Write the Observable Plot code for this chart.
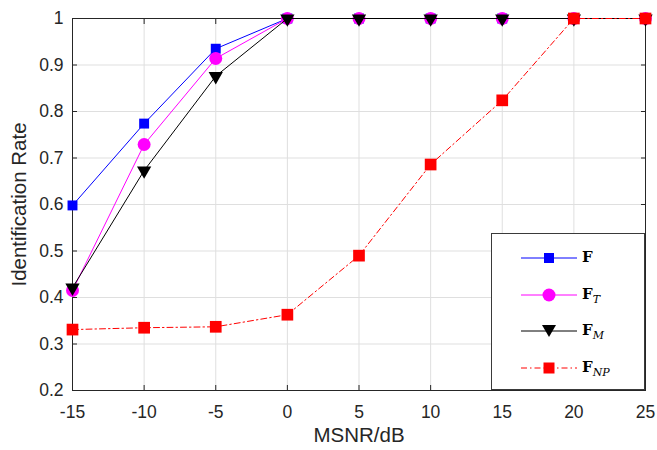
<!DOCTYPE html>
<html><head><meta charset="utf-8">
<script src="https://cdn.jsdelivr.net/npm/d3@7"></script>
<script src="https://cdn.jsdelivr.net/npm/@observablehq/plot@0.6"></script>
<style>
body{margin:0;background:#fff;}
#wrap{position:relative;width:657px;height:450px;font-family:"Liberation Sans",Arial,sans-serif;}
#legend{position:absolute;left:491px;top:233px;width:154px;height:157px;background:#fff;border:1px solid #3a3a3a;box-sizing:border-box;}
.row{position:absolute;left:0;height:24px;}
.row svg{position:absolute;left:29px;top:0;}
.lab{position:absolute;left:90px;top:2px;font-family:"DejaVu Serif","Liberation Serif",serif;font-size:15px;font-weight:bold;white-space:nowrap;color:#000;}
.lab sub{font-weight:normal;font-style:italic;font-size:11px;}
</style></head>
<body><div id="wrap"></div>
<script>
const snr = [-15, -10, -5, 0, 5, 10, 15, 20, 25];
const F   = [0.598, 0.774, 0.935, 1, 1, 1, 1, 1, 1];
const FT  = [0.415, 0.729, 0.914, 1, 1, 1, 1, 1, 1];
const FM  = [0.421, 0.673, 0.876, 1, 1, 1, 1, 1, 1];
const FNP = [0.331, 0.335, 0.337, 0.363, 0.490, 0.686, 0.824, 1, 1];
const xTicks = [-15, -10, -5, 0, 5, 10, 15, 20, 25];
const yTicks = [0.2, 0.3, 0.4, 0.5, 0.6, 0.7, 0.8, 0.9, 1];
const xLabel = "MSNR/dB";
const yLabel = "Identification Rate";

const rows = (vals) => snr.map((x, i) => ({x, y: vals[i]}));
const dF = rows(F), dT = rows(FT), dM = rows(FM), dN = rows(FNP);
const ax = "#262626";

const chart = Plot.plot({
  width: 657, height: 450,
  marginLeft: 72, marginRight: 12, marginTop: 18, marginBottom: 60,
  style: {fontFamily: "Liberation Sans, Arial, sans-serif", fontSize: "17.5px", color: ax, background: "#fff"},
  x: {domain: [-15, 25]},
  y: {domain: [0.2, 1]},
  marks: [
    Plot.gridX(xTicks, {stroke: "#dfdfdf", strokeOpacity: 1}),
    Plot.gridY(yTicks, {stroke: "#dfdfdf", strokeOpacity: 1}),
    Plot.axisX(xTicks, {anchor: "bottom", tickSize: 0, tickPadding: 15, fontSize: 17.5, fill: ax, tickFormat: d => String(d), label: null}),
    Plot.axisX(xTicks, {anchor: "bottom", tickSize: -5, text: null, stroke: ax, label: null}),
    Plot.axisX(xTicks, {anchor: "top", tickSize: -5, text: null, stroke: ax, label: null}),
    Plot.axisY(yTicks, {anchor: "left", tickSize: 0, tickPadding: 9, fontSize: 17.5, fill: ax, tickFormat: d => d === 1 ? "1" : d.toFixed(1), label: null}),
    Plot.axisY(yTicks, {anchor: "left", tickSize: -5, text: null, stroke: ax, label: null}),
    Plot.axisY(yTicks, {anchor: "right", tickSize: -5, text: null, stroke: ax, label: null}),
    Plot.text([xLabel], {frameAnchor: "bottom", dy: 45, lineAnchor: "middle", textAnchor: "middle", fontSize: 20.5, fill: ax}),
    Plot.text([yLabel], {frameAnchor: "left", rotate: -90, dx: -53, lineAnchor: "middle", textAnchor: "middle", fontSize: 20.5, fill: ax}),
    Plot.frame({stroke: ax, strokeWidth: 1}),
    Plot.line(dF, {x: "x", y: "y", stroke: "#0000ff", strokeWidth: 1}),
    Plot.dot(dF, {x: "x", y: "y", symbol: "square", r: 5.6, fill: "#0000ff", stroke: "none"}),
    Plot.line(dT, {x: "x", y: "y", stroke: "#ff00ff", strokeWidth: 1}),
    Plot.dot(dT, {x: "x", y: "y", symbol: "circle", r: 6.5, fill: "#ff00ff", stroke: "none"}),
    Plot.line(dM, {x: "x", y: "y", stroke: "#000000", strokeWidth: 1}),
    Plot.dot(dM, {x: "x", y: "y", symbol: "triangle", r: 5.3, rotate: 180, fill: "#000000", stroke: "none"}),
    Plot.line(dN, {x: "x", y: "y", stroke: "#ff0000", strokeWidth: 1, strokeDasharray: "6,3,1.5,3"}),
    Plot.dot(dN, {x: "x", y: "y", symbol: "square", r: 6.6, fill: "#ff0000", stroke: "none"})
  ]
});
const wrap = document.getElementById("wrap");
wrap.appendChild(chart);

// legend
const leg = document.createElement("div");
leg.id = "legend";
const items = [
  {color: "#0000ff", dash: "", marker: '<rect x="23" y="7" width="10" height="10" fill="#0000ff"/>', label: "F", sub: ""},
  {color: "#ff00ff", dash: "", marker: '<circle cx="28" cy="12" r="6.5" fill="#ff00ff"/>', label: "F", sub: "T"},
  {color: "#000000", dash: "", marker: '<path d="M21,6 L35,6 L28,18 Z" fill="#000"/>', label: "F", sub: "M"},
  {color: "#ff0000", dash: "6,3,1.5,3", marker: '<rect x="22.5" y="6.5" width="11" height="11" fill="#ff0000"/>', label: "F", sub: "NP"}
];
const rowTops = [12, 49, 85, 122];
items.forEach((it, i) => {
  const r = document.createElement("div");
  r.className = "row";
  r.style.top = rowTops[i] + "px";
  r.style.width = "150px";
  r.innerHTML = `<svg width="58" height="24"><line x1="0" y1="12" x2="56" y2="12" stroke="${it.color}" stroke-width="1" ${it.dash ? `stroke-dasharray="${it.dash}"` : ""}/>${it.marker}</svg>` +
    `<span class="lab">${it.label}${it.sub ? `<sub>${it.sub}</sub>` : ""}</span>`;
  leg.appendChild(r);
});
wrap.appendChild(leg);
</script></body></html>
